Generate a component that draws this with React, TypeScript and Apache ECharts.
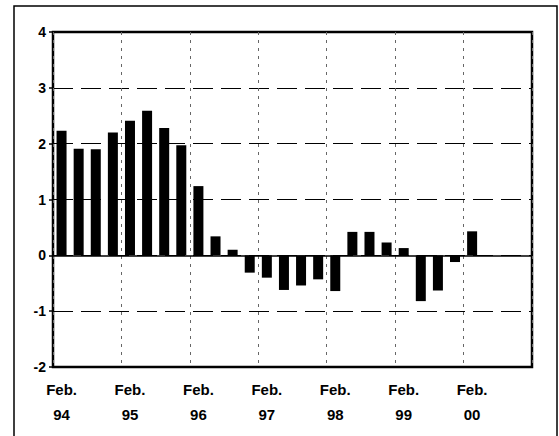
import React, { useEffect, useRef } from 'react';
import * as echarts from 'echarts';

// Quarterly categories (Feb, May, Aug, Nov) for each year 1994–2000
const years = ['94', '95', '96', '97', '98', '99', '00'];
const quarterMonths = ['Feb.', 'May', 'Aug.', 'Nov.'];
const categories = years.flatMap((y) => quarterMonths.map((m) => `${m}\n${y}`));

// Values (Feb 94 … Feb 00)
const values = [
  2.23, 1.91, 1.9, 2.2,
  2.41, 2.59, 2.28, 1.97,
  1.24, 0.34, 0.1, -0.31,
  -0.4, -0.62, -0.54, -0.43,
  -0.64, 0.42, 0.42, 0.23,
  0.13, -0.82, -0.63, -0.12,
  0.43,
];

const yMin = -2;
const yMax = 4;
const yInterval = 1;

const FONT = '"Liberation Sans", Arial, Helvetica, sans-serif';

export default function App() {
  const ref = useRef<HTMLDivElement>(null);

  useEffect(() => {
    if (!ref.current) return;
    const chart = echarts.init(ref.current, undefined, { renderer: 'svg' });
    chart.setOption({
      animation: false,
      backgroundColor: '#fff',
      graphic: [
        {
          type: 'rect',
          silent: true,
          shape: { x: 14, y: 6, width: 543, height: 440 },
          style: { fill: 'none', stroke: '#000', lineWidth: 1.5 },
        },
      ],
      grid: {
        left: 53,
        right: 27,
        top: 32,
        bottom: 69,
        show: true,
        borderColor: '#000',
        borderWidth: 2.5,
        backgroundColor: 'transparent',
      },
      xAxis: {
        type: 'category',
        data: categories,
        boundaryGap: true,
        axisLine: { show: false },
        axisTick: { show: false },
        axisLabel: {
          interval: 3,
          fontFamily: FONT,
          fontWeight: 'bold',
          fontSize: 15,
          color: '#000',
          lineHeight: 25,
          margin: 10,
        },
        splitLine: {
          show: true,
          interval: 3,
          lineStyle: { type: [3, 5], color: '#666', width: 1 },
        },
      },
      yAxis: {
        type: 'value',
        min: yMin,
        max: yMax,
        interval: yInterval,
        axisLine: { show: false },
        axisTick: { show: true, length: 4, lineStyle: { color: '#000', width: 1.5 } },
        axisLabel: {
          fontFamily: FONT,
          fontWeight: 'bold',
          fontSize: 14,
          color: '#000',
          margin: 7,
        },
        splitLine: {
          show: true,
          lineStyle: { type: [20, 8], color: '#000', width: 1.2 },
        },
      },
      series: [
        {
          type: 'bar',
          data: values,
          barWidth: 10,
          itemStyle: { color: '#000' },
          markLine: {
            silent: true,
            symbol: 'none',
            label: { show: false },
            lineStyle: { type: 'solid', color: '#000', width: 1.5 },
            data: [{ yAxis: 0 }],
          },
        },
      ],
    });
    return () => chart.dispose();
  }, []);

  return (
    <div
      ref={ref}
      style={{ position: 'absolute', left: 0, top: 0, width: 559, height: 436, background: '#fff' }}
    />
  );
}
